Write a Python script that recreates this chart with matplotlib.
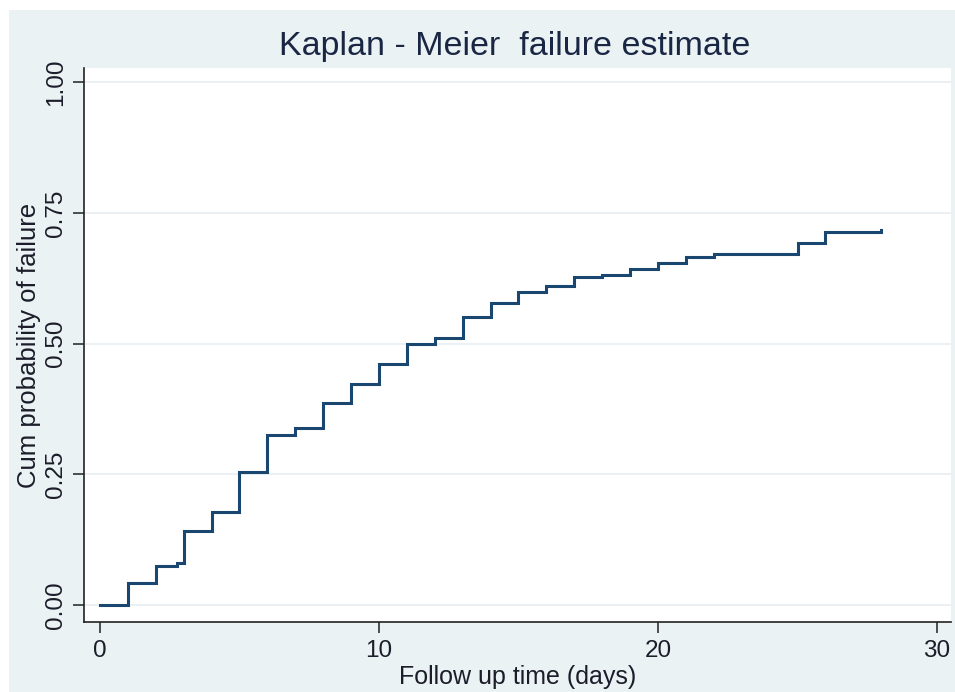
import matplotlib
matplotlib.use("Agg")
import matplotlib.pyplot as plt
from matplotlib.patches import Rectangle

# follow up time (days) where the estimate steps, and cum. failure after the step
times = [0, 1, 2, 2.75, 3, 4, 5, 6, 7, 8, 9, 10, 11, 12, 13, 14, 15, 16, 17, 18,
         19, 20, 21, 22, 25, 26, 28]
fail = [0.0, 0.043, 0.075, 0.080, 0.141, 0.177, 0.255, 0.325, 0.339, 0.387,
        0.422, 0.461, 0.500, 0.511, 0.551, 0.578, 0.598, 0.610, 0.627, 0.632,
        0.642, 0.655, 0.665, 0.672, 0.692, 0.713, 0.718]
xticks = [0, 10, 20, 30]
yticks = [0.0, 0.25, 0.5, 0.75, 1.0]
ytick_labels = ["0.00", "0.25", "0.50", "0.75", "1.00"]

BG = "#eaf2f3"
LINE = "#1a476f"
TXT = "#1c1c2a"
FONT = ["Liberation Sans Narrow", "Liberation Sans", "DejaVu Sans"]

plt.rcParams["font.family"] = FONT

fig = plt.figure(figsize=(9.55, 6.92), dpi=100, facecolor="white")
# stata style light graph region, with a small white border on top/left
fig.patches.append(Rectangle((9 / 955, 0), 1, 1 - 10 / 692, transform=fig.transFigure,
                             facecolor=BG, edgecolor="none", zorder=-10))

ax = fig.add_axes([84 / 955, 70 / 692, 867 / 955, 554 / 692])
ax.set_facecolor("white")

ax.step(times, fail, where="post", color=LINE, lw=2.2, solid_joinstyle="miter")

ax.set_xlim(-0.57, 30.5)
ax.set_ylim(-0.0325, 1.027)
ax.set_xticks(xticks)
ax.set_yticks(yticks)
ax.set_yticklabels(ytick_labels, rotation=90, va="center")
ax.grid(axis="y", color="#e6eef2", lw=1.2)
ax.set_axisbelow(True)

for s in ["top", "right"]:
    ax.spines[s].set_visible(False)
for s in ["left", "bottom"]:
    ax.spines[s].set_color("#222222")
    ax.spines[s].set_linewidth(1.2)

ax.tick_params(axis="both", direction="out", length=8, width=1.1, color="#222222",
               labelsize=17.5, labelcolor=TXT)
ax.tick_params(axis="y", pad=4)
ax.tick_params(axis="x", pad=5)

ax.set_xlabel("Follow up time (days)", fontsize=18, color=TXT, labelpad=2)
ax.set_ylabel("Cum probability of failure", fontsize=18.5, color=TXT, labelpad=3)
fig.text(515 / 955, 1 - 46 / 692, "Kaplan - Meier  failure estimate", ha="center",
         va="center", fontsize=24.5, color="#1a2744")

fig.savefig("out.png", dpi=100, facecolor=fig.get_facecolor())
